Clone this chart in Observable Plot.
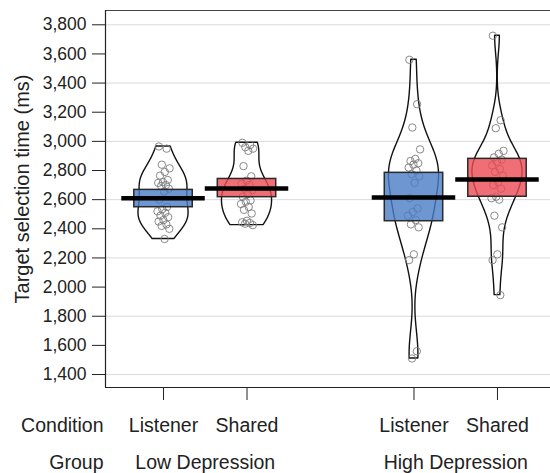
<!DOCTYPE html>
<html><head><meta charset="utf-8">
<script src="https://cdn.jsdelivr.net/npm/d3@7"></script>
<script src="https://cdn.jsdelivr.net/npm/@observablehq/plot@0.6"></script>
<style>
body{margin:0;background:#fff;}
#chart svg{display:block;}
</style>
</head><body><div id="chart"></div>
<script>
// ---- data ----
const groups = ["Low Depression", "High Depression"];
const conditions = ["Listener", "Shared"];
const lowListener = [2965, 2950, 2840, 2815, 2790, 2765, 2735, 2720, 2715, 2700, 2695, 2675, 2655, 2600, 2550, 2535, 2520, 2510, 2490, 2480, 2460, 2450, 2430, 2420, 2400, 2330];
const lowShared = [2990, 2975, 2960, 2950, 2935, 2830, 2760, 2730, 2710, 2700, 2675, 2665, 2640, 2620, 2595, 2585, 2570, 2550, 2530, 2505, 2455, 2445, 2440, 2435, 2425];
const highListener = [3560, 3255, 3095, 2945, 2880, 2865, 2850, 2840, 2820, 2800, 2775, 2760, 2715, 2610, 2540, 2515, 2490, 2460, 2430, 2410, 2225, 2185, 1560, 1510];
const highShared = [3725, 3145, 3090, 2935, 2915, 2890, 2875, 2860, 2835, 2810, 2790, 2765, 2720, 2700, 2675, 2620, 2610, 2600, 2490, 2410, 2225, 2185, 1945];
const means = [2609, 2677, 2615, 2738];
const infLow = [2548, 2617, 2452, 2620];
const infHigh = [2667, 2742, 2784, 2880];
const yTicks = d3.range(1400, 3801, 200);
const gridTicks = d3.range(1400, 3801, 400);

// ---- build table ----
const valueSets = [lowListener, lowShared, highListener, highShared];
const series = valueSets.map((values, i) => ({
  group: groups[Math.floor(i / 2)],
  condition: conditions[i % 2],
  pos: i < 2 ? i + 1 : i + 2,
  values,
  mean: means[i], lo: infLow[i], hi: infHigh[i]
}));
const fills = {Listener: "#4a7cc6", Shared: "#ec4a52"};

// bean densities (gaussian KDE, R nrd0 bandwidth), truncated at data range
function bean(s) {
  const v = s.values.slice().sort(d3.ascending);
  const n = v.length;
  const sd = d3.deviation(v);
  const iqr = d3.quantile(v, 0.75) - d3.quantile(v, 0.25);
  const bw = 1.2 * 0.9 * Math.min(sd, iqr / 1.34) * Math.pow(n, -0.2);
  const lo = v[0], hi = v[n - 1];
  const ys = d3.range(0, 301).map(k => lo + (hi - lo) * k / 300);
  const dens = ys.map(y => d3.sum(v, x => Math.exp(-0.5 * ((y - x) / bw) ** 2)));
  const m = d3.max(dens);
  return ys.map((y, k) => ({y, x1: s.pos - dens[k] / m * 0.3, x2: s.pos + dens[k] / m * 0.3, key: s.pos}));
}
const beans = series.flatMap(bean);
const points = series.flatMap(s => s.values.map((v, i) => ({
  x: s.pos + (((i * 0.6180339 + 0.13) % 1) - 0.5) * 0.15,
  y: v
})));

const plot = Plot.plot({
  width: 550,
  height: 473,
  marginLeft: 105,
  marginRight: 0,
  marginTop: 10,
  marginBottom: 86,
  style: {fontFamily: "'Liberation Sans', Arial, sans-serif", color: "#222", background: "#fff"},
  x: {domain: [0.305, 5.635], axis: null},
  y: {domain: [1311, 3898], axis: null},
  marks: [
    Plot.ruleY(gridTicks, {stroke: "#dadada", strokeWidth: 1}),
    Plot.areaX(beans, {y: "y", x1: "x1", x2: "x2", z: "key", fill: "none", stroke: "#111", strokeWidth: 1.4}),
    Plot.dot(points, {x: "x", y: "y", r: 3.7, stroke: "#7d7d7d", strokeWidth: 0.9, fill: "none"}),
    Plot.rect(series, {x1: d => d.pos - 0.35, x2: d => d.pos + 0.35, y1: "lo", y2: "hi",
      fill: d => fills[d.condition], fillOpacity: 0.8, stroke: "#2a2a2a", strokeWidth: 1.5}),
    Plot.ruleY(series, {y: "mean", x1: d => d.pos - 0.5, x2: d => d.pos + 0.5, stroke: "#000", strokeWidth: 4.5}),
    // frame (top, left, bottom)
    Plot.ruleY([3898], {stroke: "#444", strokeWidth: 1.2}),
    Plot.ruleY([1311], {stroke: "#222", strokeWidth: 1.2}),
    Plot.ruleX([0.305], {stroke: "#222", strokeWidth: 1.2}),
    Plot.axisY({ticks: yTicks, tickFormat: d3.format(","), tickSize: 13, tickPadding: 6, fontSize: 17.5, label: null}),
    Plot.axisX({ticks: series.map(d => d.pos), tickFormat: p => series.find(d => d.pos === p).condition,
      tickSize: 13, tickPadding: 18, fontSize: 19.5, label: null}),
    Plot.text(["Condition"], {frameAnchor: "bottom-left", textAnchor: "end", lineAnchor: "top", dx: -2, dy: 31, fontSize: 19.5}),
    Plot.text(["Group"], {frameAnchor: "bottom-left", textAnchor: "end", lineAnchor: "top", dx: -2, dy: 67.5, fontSize: 19.5}),
    Plot.text(groups.map((g, i) => ({g, x: i === 0 ? 1.5 : 4.5})), {x: "x", text: "g", frameAnchor: "bottom", lineAnchor: "top", dy: 67.5, fontSize: 19.5}),
    Plot.text(["Target selection time (ms)"], {frameAnchor: "left", textAnchor: "middle", rotate: -90, dx: -83, dy: -10, fontSize: 20})
  ]
});
document.getElementById("chart").append(plot);
</script>
</body></html>
